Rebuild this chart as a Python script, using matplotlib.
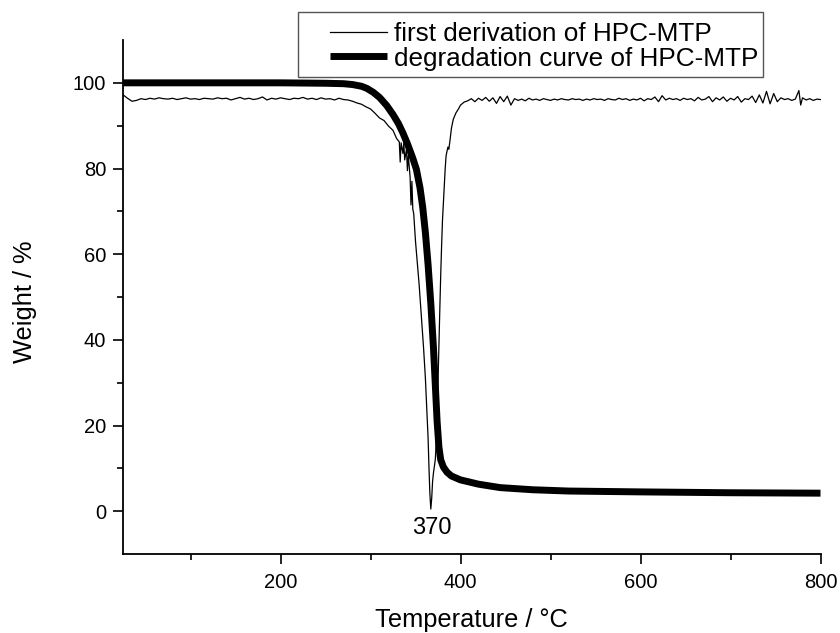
import matplotlib
matplotlib.use("Agg")
import matplotlib.pyplot as plt
from matplotlib.patches import Rectangle

plt.rcParams['font.family'] = ['Liberation Sans', 'DejaVu Sans']

# Degradation (TGA) curve of HPC-MTP
tga_temp = [25, 100, 200, 250, 270, 280, 290, 296, 303, 310, 318, 325, 331, 336, 341, 347,
            351, 355, 358, 361, 364, 367, 370, 372, 374, 376, 378, 381, 385, 390, 400, 420,
            444, 480, 520, 600, 700, 800]
tga_weight = [100.0, 100.0, 100.0, 99.9, 99.8, 99.6, 99.2, 98.7, 97.8, 96.6, 94.7, 92.6, 90.5,
              88.3, 85.8, 82.4, 79.8, 75.5, 71.0, 65.0, 57.5, 48.5, 38.0, 29.5, 21.0, 15.0,
              12.0, 10.3, 9.1, 8.2, 7.3, 6.3, 5.5, 5.0, 4.7, 4.5, 4.3, 4.2]

# First derivation curve of HPC-MTP (scaled)
deriv_temp = [25, 30, 35, 40, 45, 50, 55, 60, 65, 70, 75, 80, 85, 90, 95, 100, 105, 110, 115,
              120, 125, 130, 135, 140, 145, 150, 155, 160, 165, 170, 175, 180, 185, 190, 195,
              200, 205, 210, 215, 220, 225, 230, 235, 240, 245, 250, 255, 260, 265, 270, 275,
              280, 285, 290, 295, 300, 305, 310, 315, 320, 325, 329, 332, 333, 334, 336, 337,
              338, 340, 341, 342, 344, 345, 346, 347, 348, 350, 352, 354, 356, 358, 359, 361,
              363, 364, 365, 366, 367, 368, 369, 370, 371, 372, 373, 374, 375, 376, 377, 378,
              379, 380, 381, 382, 383, 384, 385, 386, 387, 388, 390, 392, 395, 398,
              400, 404, 408, 412, 416, 420, 424, 428, 432, 436, 440, 444, 448, 452, 456, 460,
              464, 468, 472, 476, 480, 484, 488, 492, 496, 500, 504, 508, 512, 516, 520, 524,
              528, 532, 536, 540, 544, 548, 552, 556, 560, 564, 568, 572, 576, 580, 584, 588,
              592, 596, 600, 604, 608, 612, 616, 620, 624, 628, 632, 636, 640, 644, 648, 652,
              656, 660, 664, 668, 672, 676, 680, 684, 688, 692, 696, 700, 704, 708, 712, 716,
              720, 724, 728, 732, 736, 740, 744, 748, 752, 756, 760, 764, 768, 772, 776, 778,
              780, 784, 788, 792, 796, 800]
deriv_value = [97.2, 96.4, 95.7, 95.9, 96.3, 96.1, 96.4, 96.2, 96.5, 96.3, 96.2, 96.4, 96.1,
               96.3, 96.5, 96.2, 96.3, 96.1, 96.4, 96.3, 96.2, 96.5, 96.3, 96.4, 96.0, 96.3,
               96.6, 96.2, 96.4, 96.1, 96.3, 96.7, 96.0, 96.4, 96.2, 96.5, 96.3, 96.1, 96.4,
               96.3, 96.6, 96.2, 96.4, 96.1, 96.5, 96.2, 96.3, 96.0, 96.4, 96.1, 96.0, 95.7,
               95.3, 95.0, 94.4, 93.9, 92.9, 91.8, 91.2, 89.9, 88.9, 87.0, 86.2, 81.5, 86.0,
               83.5, 86.0, 82.0, 84.5, 79.5, 83.0, 78.0, 71.5, 77.0, 70.5, 69.5, 63.0, 58.0,
               53.0, 47.0, 41.0, 38.0, 31.0, 22.0, 17.0, 10.0, 4.0, 0.5, 3.0, 7.0, 9.0, 10.5,
               12.0, 16.0, 22.0, 30.0, 39.0, 47.0, 55.0, 62.0, 68.0, 72.0, 76.0, 80.0, 83.0,
               84.0, 85.0, 84.5, 86.0, 89.5, 91.5, 93.0, 94.0,
               94.8, 95.5, 95.8, 96.3, 95.6, 96.4, 95.9, 96.6, 95.7, 96.5, 95.2, 96.8, 95.6,
               96.9, 94.8, 96.3, 95.9, 96.2, 95.8, 96.4, 96.0, 96.2, 95.9, 96.3, 96.1, 95.9,
               96.2, 96.0, 96.3, 96.1, 96.0, 96.3, 96.1, 96.2, 95.9, 96.2, 96.0, 96.3, 96.1,
               96.2, 95.9, 96.3, 96.1, 96.0, 96.4, 96.1, 96.3, 95.9, 96.2, 96.0, 96.4, 95.8,
               96.3, 96.1, 96.7, 95.6, 97.0, 96.0, 96.4, 96.1, 96.3, 95.9, 96.4, 96.1, 96.3,
               95.8, 96.6, 96.0, 96.2, 96.8, 95.6, 96.5, 96.0, 96.7, 95.7, 96.4, 96.0, 96.8,
               95.5, 96.3, 96.1, 96.9, 95.4, 97.2, 95.3, 98.0, 95.1, 97.5, 95.6, 96.5, 96.1,
               96.3, 95.9, 96.2, 98.2, 94.8, 96.5, 96.0, 96.3, 95.9, 96.2, 96.1]

x_ticks = [200, 400, 600, 800]
y_ticks = [0, 20, 40, 60, 80, 100]
peak_label = "370"
peak_temp = 370

W, H = 840, 633
fig = plt.figure(figsize=(8.4, 6.33), dpi=100)
ax = fig.add_axes([123 / W, 1 - 554 / H, (820.5 - 123) / W, (554 - 40) / H])

ax.plot(deriv_temp, deriv_value, color='black', lw=0.9, label='first derivation of HPC-MTP')
ax.plot(tga_temp, tga_weight, color='black', lw=5, solid_capstyle='butt',
        label='degradation curve of HPC-MTP')

ax.set_xlim(25, 800)
ax.set_ylim(-10, 110)
ax.set_xticks(x_ticks)
ax.set_yticks(y_ticks)
ax.set_xticks([100, 300, 500, 700], minor=True)
ax.set_yticks([10, 30, 50, 70, 90], minor=True)

for s in ['top', 'right']:
    ax.spines[s].set_visible(False)
for s in ['left', 'bottom']:
    ax.spines[s].set_linewidth(1.3)

ax.tick_params(which='major', direction='out', length=7, width=1.2, labelsize=14.5)
ax.tick_params(which='minor', direction='out', length=4, width=1.2)
ax.tick_params(axis='y', which='major', pad=5.0)
ax.tick_params(axis='x', which='major', pad=7.0)

ax.set_xlabel('Temperature / °C', fontsize=18.3)
ax.set_ylabel('Weight / %', fontsize=18.3)
ax.xaxis.set_label_coords(0.5, -0.128)
ax.yaxis.set_label_coords((25 - 123) / 697.5, 0.49)
ax.yaxis.label.set_va('center')
ax.xaxis.label.set_va('center')

ax.text(peak_temp - 2, -4, peak_label, ha='center', va='center', fontsize=17)

# legend frame drawn separately (figure pixel coordinates)
fig.patches.append(Rectangle((298 / W, 1 - 77 / H), (763 - 298) / W, (77 - 12) / H,
                             transform=fig.transFigure, fill=False,
                             edgecolor='#555555', linewidth=1.0))
leg = fig.legend(loc='upper left', bbox_to_anchor=(330 / W, 1 - 22 / H),
                 bbox_transform=fig.transFigure, borderaxespad=0, borderpad=0,
                 fontsize=18.8, handlelength=2.2, handletextpad=0.25, labelspacing=0.02,
                 frameon=False)

fig.savefig('out.png', dpi=100)
